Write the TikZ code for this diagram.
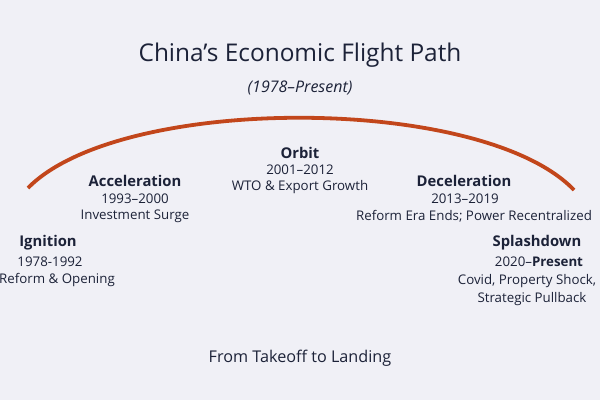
\documentclass[tikz,border=0pt]{standalone}
\usepackage{fontspec}
\setmainfont{Open Sans}
\definecolor{bg}{HTML}{F0F0F6}
\definecolor{ink}{HTML}{1C2238}
\definecolor{arc}{HTML}{C2461B}
\begin{document}
\begin{tikzpicture}[x=1pt,y=-1pt,
  every node/.style={text=ink,inner sep=0pt,anchor=center},
  hd/.style={font=\fontsize{14.8}{16}\selectfont\bfseries},
  tx/.style={font=\fontsize{13.3}{15}\selectfont}]
\fill[bg] (0,0) rectangle (600,400);
\useasboundingbox (0,0) rectangle (600,400);
\node[font=\fontsize{24.4}{28}\selectfont] (title) at (300,55) {China’s Economic Flight Path};
\node[font=\fontsize{16}{18}\selectfont\itshape] (sub) at (300,88) {(1978–Present)};
\coordinate (a0) at (28,188);
\coordinate (a1) at (574,190);
\draw[arc,line width=3.8pt] (a0) .. controls (120,94) and (482,94) .. (a1);
\node[hd] (orb) at (300,153) {Orbit};
\node[tx] (orb1) at (300,170) {2001–2012};
\node[tx] (orb2) at (300,187) {WTO \& Export Growth};
\node[hd] (acc) at (135,181) {Acceleration};
\node[tx] (acc1) at (135,199) {1993–2000};
\node[tx] (acc2) at (135,216) {Investment Surge};
\node[hd] (ign) at (48,243) {Ignition};
\node[tx] (ign1) at (50,262) {1978-1992};
\node[tx] (ign2) at (57,280) {Reform \& Opening};
\node[hd] (dec) at (464,181) {Deceleration};
\node[tx] (dec1) at (465,199) {2013–2019};
\node[tx] (dec2) at (474,216) {Reform Era Ends; Power Recentralized};
\node[hd] (spl) at (537,243) {Splashdown};
\node[tx] (spl1) at (539,262) {2020–\textbf{Present}};
\node[tx] (spl2) at (527,281) {Covid, Property Shock,};
\node[tx] (spl3) at (532,299) {Strategic Pullback};
\node[font=\fontsize{16.2}{18}\selectfont] (foot) at (300,358) {From Takeoff to Landing};
\end{tikzpicture}
\end{document}
